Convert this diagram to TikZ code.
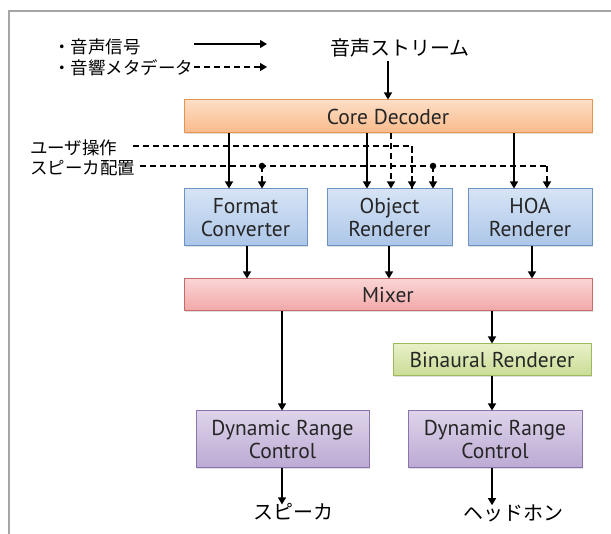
\documentclass[tikz,border=0pt]{standalone}
\usepackage{fontspec}
\setmainfont{PT Sans}
\newfontfamily\jp{Noto Sans CJK JP}
\usetikzlibrary{arrows.meta,shadows}
\definecolor{frameg}{RGB}{166,166,166}
\definecolor{orD}{RGB}{229,148,81}\definecolor{orT}{RGB}{253,222,198}\definecolor{orB}{RGB}{249,186,138}
\definecolor{blD}{RGB}{110,147,197}\definecolor{blT}{RGB}{214,228,245}\definecolor{blB}{RGB}{172,198,232}
\definecolor{rdD}{RGB}{198,107,107}\definecolor{rdT}{RGB}{250,212,212}\definecolor{rdB}{RGB}{242,168,168}
\definecolor{grD}{RGB}{157,187,94}\definecolor{grT}{RGB}{232,240,200}\definecolor{grB}{RGB}{201,220,149}
\definecolor{puD}{RGB}{139,115,173}\definecolor{puT}{RGB}{222,212,234}\definecolor{puB}{RGB}{187,169,211}
\tikzset{
  box/.style={rectangle, line width=1pt, inner sep=0pt, align=center, font=\fontsize{21.5}{23.5}\selectfont,
    text=black!85, drop shadow={opacity=0.25, shadow xshift=1.2pt, shadow yshift=-1.2pt}},
  orbox/.style={box, draw=orD, top color=orT, bottom color=orB},
  blbox/.style={box, draw=blD, top color=blT, bottom color=blB},
  rdbox/.style={box, draw=rdD, top color=rdT, bottom color=rdB},
  grbox/.style={box, draw=grD, top color=grT, bottom color=grB},
  pubox/.style={box, draw=puD, top color=puT, bottom color=puB},
  lbl/.style={inner sep=0pt, font=\jp\fontsize{17.5}{20}\selectfont},
  biglbl/.style={inner sep=0pt, font=\jp\fontsize{20}{22}\selectfont},
  sig/.style={line width=1.3pt, -{Triangle[length=7pt,width=8pt]}},
  meta/.style={line width=1.3pt, dash pattern=on 6pt off 4pt},
  metaarr/.style={meta, -{Triangle[length=7pt,width=8pt]}},
  jdot/.style={circle, fill=black, inner sep=0pt, minimum size=6.5pt},
}
\begin{document}
\begin{tikzpicture}[x=1pt,y=-1pt]
\useasboundingbox (0,0) rectangle (611,534);
\draw[frameg, line width=1.5pt] (9,540) -- (9,11) -- (620,11);

% legend
\node[lbl, anchor=west] (leg1) at (53,47) {・音声信号};
\node[lbl, anchor=west] (leg2) at (53,68) {・音響メタデータ};
\coordinate (l1a) at (194,44); \coordinate (l1b) at (267,44);
\coordinate (l2a) at (194,67); \coordinate (l2b) at (267,67);
\draw[sig] (l1a) -- (l1b);
\draw[metaarr] (l2a) -- (l2b);

% boxes
\node[biglbl] (stream) at (400,48) {音声ストリーム};
\node[orbox, minimum width=408pt, minimum height=33pt] (core) at (388,116.5) {Core Decoder};
\node[blbox, minimum width=123pt, minimum height=57pt] (fc) at (245.5,217.5) {Format\\Converter};
\node[blbox, minimum width=125pt, minimum height=57pt] (obj) at (389.5,217.5) {Object\\Renderer};
\node[blbox, minimum width=124pt, minimum height=57pt] (hoa) at (530,217.5) {HOA\\Renderer};
\node[rdbox, minimum width=408pt, minimum height=32pt] (mix) at (388,295) {Mixer};
\node[grbox, minimum width=198pt, minimum height=32pt] (bin) at (492,360) {Binaural Renderer};
\node[pubox, minimum width=173pt, minimum height=57pt] (drc1) at (282.5,439.5) {Dynamic Range\\Control};
\node[pubox, minimum width=174pt, minimum height=57pt] (drc2) at (495,439.5) {Dynamic Range\\Control};
\node[biglbl] (spk) at (293,512) {スピーカ};
\node[biglbl] (hp) at (513,513) {ヘッドホン};

% side labels
\node[lbl, anchor=west] (user) at (30,148) {ユーザ操作};
\node[lbl, anchor=west] (spos) at (30,168) {スピーカ配置};

% x positions
\coordinate (xa) at (229,0);
\coordinate (xb) at (262,0);
\coordinate (xc) at (367,0);
\coordinate (xd) at (391,0);
\coordinate (xe) at (412,0);
\coordinate (xf) at (433,0);
\coordinate (xg) at (514,0);
\coordinate (xh) at (547,0);
\coordinate (xi) at (247,0);
\coordinate (xj) at (389,0);
\coordinate (xk) at (532,0);
\coordinate (xl) at (282,0);
\coordinate (xm) at (492,0);
\coordinate (u0) at (133,146);
\coordinate (s0) at (140,166);

% stream to core
\draw[sig] (stream.south -| core.north) ++(0,4) -- (core.north);

% dashed metadata lines
\draw[meta] (u0) -- (u0 -| xe) -- ([yshift=-0.5pt]obj.north -| xe);
\draw[metaarr] (u0 -| xe) -- (obj.north -| xe);
\draw[meta] (s0) -- (s0 -| xh);
\draw[metaarr] (s0 -| xh) -- (hoa.north -| xh);
\node[jdot] (d1) at (s0 -| xb) {};
\node[jdot] (d2) at (s0 -| xf) {};
\draw[metaarr] (d1.center) -- (fc.north -| xb);
\draw[metaarr] (d2.center) -- (obj.north -| xf);
\draw[metaarr] (core.south -| xd) -- (obj.north -| xd);

% core to renderers
\draw[sig] (core.south -| xa) -- (fc.north -| xa);
\draw[sig] (core.south -| xc) -- (obj.north -| xc);
\draw[sig] (core.south -| xg) -- (hoa.north -| xg);

% renderers to mixer
\draw[sig] (fc.south -| xi) -- (mix.north -| xi);
\draw[sig] (obj.south -| xj) -- (mix.north -| xj);
\draw[sig] (hoa.south -| xk) -- (mix.north -| xk);

% mixer onward
\draw[sig] (mix.south -| xl) -- (drc1.north -| xl);
\draw[sig] (mix.south -| xm) -- (bin.north -| xm);
\draw[sig] (bin.south -| xm) -- (drc2.north -| xm);
\draw[sig] (drc1.south -| xl) -- ([yshift=-1pt]spk.north -| xl);
\draw[sig] (drc2.south -| xm) -- ([yshift=-1pt]hp.north -| xm);
\end{tikzpicture}
\end{document}
